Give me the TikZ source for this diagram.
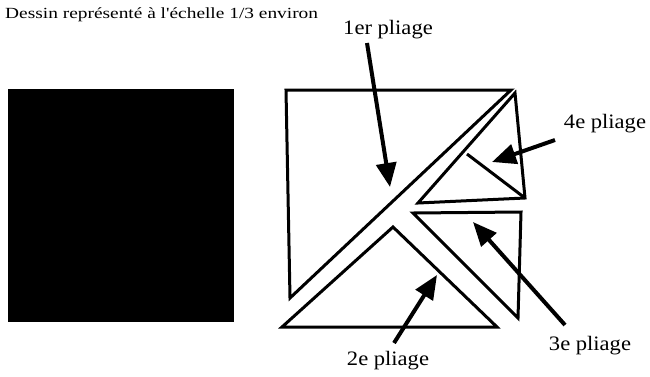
\documentclass[tikz,border=0pt]{standalone}
\usepackage{fontspec}
\setmainfont{Liberation Serif}
\usetikzlibrary{arrows.meta}

\begin{document}
\begin{tikzpicture}[x=1pt,y=-1pt,
  piece/.style={draw=black,line width=3pt},
  fleche/.style={draw=black,line width=4pt,-{Triangle[length=24pt,width=20pt]}},
  lbl/.style={inner sep=0pt,anchor=base,font=\fontsize{20.5}{24}\selectfont,xscale=1.1}]
  \useasboundingbox (0,0) rectangle (650,376);
  \node[anchor=base west,inner sep=0pt,font=\fontsize{15.5}{18}\selectfont,xscale=1.25] (titre) at (5,18) {Dessin représenté à l\textquotesingle échelle 1/3 environ};
  % feuille entiere
  \fill[black] (8,89) rectangle (234,322);
  % pieces apres pliages
  \draw[piece] (286,90) -- (511,90) -- (290,298) -- cycle;
  \draw[piece] (515,93) -- (525,198) -- (418,203) -- cycle; \draw[piece] (467,154) -- (525,198);
  \draw[piece] (413,213) -- (521,212) -- (518,318) -- cycle;
  \draw[piece] (393,227) -- (497,327) -- (282,327) -- cycle;
  % etiquettes et fleches
  \node[lbl] (p1) at (388,34) {1er pliage}; \node[lbl] (p2) at (388,365) {2e pliage};
  \node[lbl] (p3) at (590,350) {3e pliage}; \node[lbl] (p4) at (605,128) {4e pliage};
  \coordinate (d1) at (367,43); \coordinate (f1) at (390,187);
  \coordinate (d2) at (394,343); \coordinate (f2) at (437,275);
  \coordinate (d3) at (565,325); \coordinate (f3) at (473,222);
  \coordinate (d4) at (555,140); \coordinate (f4) at (492,162);
  \draw[fleche] (d1) -- (f1); \draw[fleche] (d2) -- (f2);
  \draw[fleche] (d3) -- (f3); \draw[fleche] (d4) -- (f4);
\end{tikzpicture}
\end{document}
